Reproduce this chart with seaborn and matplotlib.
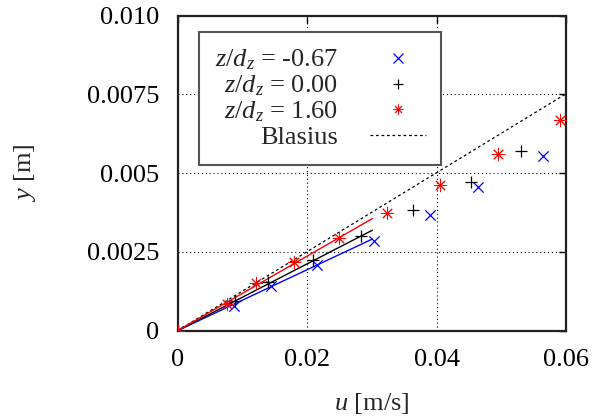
import numpy as np
import pandas as pd
import matplotlib
matplotlib.use("Agg")
import matplotlib.pyplot as plt
from matplotlib.lines import Line2D
import seaborn as sns

# ---------------- data ----------------
series_labels = [r"$z/d_z$ = -0.67", r"$z/d_z$ = 0.00", r"$z/d_z$ = 1.60"]
series_colors = ["#0000ff", "#000000", "#ff0000"]

u_neg067 = [0.0, 0.0088, 0.0144, 0.0215, 0.0303, 0.0390, 0.0464, 0.0564]
y_neg067 = [0.0, 0.00078, 0.00141, 0.00209, 0.00286, 0.00368, 0.00457, 0.00554]
u_000 = [0.0, 0.0089, 0.0140, 0.0210, 0.0284, 0.0364, 0.0453, 0.0530]
y_000 = [0.0, 0.00095, 0.00154, 0.00226, 0.00302, 0.00382, 0.00472, 0.00570]
u_160 = [0.0, 0.00765, 0.01205, 0.0180, 0.0250, 0.0323, 0.0406, 0.0495, 0.0590]
y_160 = [0.0, 0.000845, 0.0015, 0.00217, 0.00294, 0.00374, 0.00464, 0.00562, 0.00669]

fit_u = [0.0, 0.0301]
fit_slopes = [0.0967, 0.106, 0.1183]

blasius_u = [0.0, 0.06]
blasius_y = [0.0, 0.00752]

x_ticks = [0.0, 0.02, 0.04, 0.06]
x_ticklabels = ["0", "0.02", "0.04", "0.06"]
y_ticks = [0.0, 0.0025, 0.005, 0.0075, 0.010]
y_ticklabels = ["0", "0.0025", "0.005", "0.0075", "0.010"]

# ---------------- style ----------------
sns.set_style("white")
plt.rcParams["font.family"] = ["Liberation Serif", "DejaVu Serif"]
plt.rcParams["mathtext.fontset"] = "custom"
plt.rcParams["mathtext.rm"] = "Liberation Serif"
plt.rcParams["mathtext.it"] = "Liberation Serif:italic"
FS = 19
plt.rcParams["font.size"] = FS

fig = plt.figure(figsize=(5.95, 4.2), dpi=100)
ax = fig.add_axes([177.5 / 595, 1 - 330.7 / 420, (566 - 177.5) / 595, (330.7 - 15.7) / 420])

us = [u_neg067, u_000, u_160]
ys = [y_neg067, y_000, y_160]
markers = ["x", "+", (8, 2, 0)]
msizes = [55, 75, 80]
mlws = [0.9, 0.9, 0.7]

df = pd.concat([pd.DataFrame({"u": u, "y": y, "s": lab})
                for u, y, lab in zip(us, ys, series_labels)], ignore_index=True)

# Blasius
sns.lineplot(x=blasius_u, y=blasius_y, ax=ax, color="black", lw=0.9,
             linestyle=(0, (2.2, 2.2)), zorder=3)

# fit lines
for slope, col in zip(fit_slopes, series_colors):
    fu = np.array(fit_u)
    sns.lineplot(x=fu, y=slope * fu, ax=ax, color=col, lw=1.0, zorder=3)

# markers
for lab, col, mk, ms, lw in zip(series_labels, series_colors, markers, msizes, mlws):
    sub = df[df["s"] == lab]
    sns.scatterplot(data=sub, x="u", y="y", ax=ax, color=col, marker=mk, s=ms,
                    linewidth=lw, zorder=4)

ax.set_xlim(0, 0.06)
ax.set_ylim(0, 0.010)
ax.set_xticks(x_ticks)
ax.set_xticklabels(x_ticklabels)
ax.set_yticks(y_ticks)
ax.set_yticklabels(y_ticklabels)
ax.tick_params(direction="in", length=5, width=1, top=True, right=True,
               pad=13, labelsize=FS, colors="black")
ax.grid(True, color="black", linestyle=(0, (1, 2.5)), lw=0.8)
for sp in ax.spines.values():
    sp.set_linewidth(1.6)
    sp.set_color("#222222")

ax.set_xlabel(r"$u$ [m/s]", fontsize=FS)
ax.set_ylabel(r"$y$ [m]", fontsize=FS)
ax.xaxis.set_label_coords(0.5, -0.19)
ax.yaxis.set_label_coords(-0.36, 0.5)

handles = [Line2D([], [], ls="none", marker=m, color=c, markersize=7, mew=lw)
           for m, c, lw in zip(markers, series_colors, mlws)]
handles.append(Line2D([], [], color="black", lw=0.9, linestyle=(0, (2.2, 2.2))))
labels = series_labels + ["Blasius"]
leg = ax.legend(handles, labels, loc="upper left",
                bbox_to_anchor=(199 / 595, 1 - 32 / 420), bbox_transform=fig.transFigure,
                markerfirst=False, frameon=True, fancybox=False, fontsize=FS,
                handlelength=2.12, handletextpad=1.2, labelspacing=0.05,
                borderpad=0.6, borderaxespad=0)
leg.get_frame().set_edgecolor("#555555")
leg.get_frame().set_linewidth(1.5)
leg.get_frame().set_alpha(1)
leg.set_zorder(10)

fig.savefig("out.png", dpi=100)
